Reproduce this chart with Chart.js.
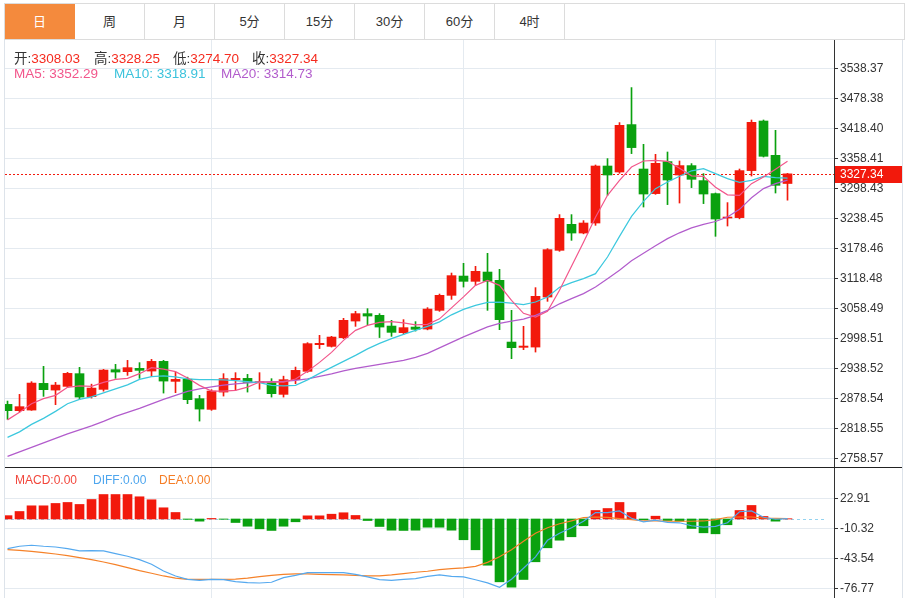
<!DOCTYPE html>
<html>
<head>
<meta charset="utf-8">
<script src="https://cdn.jsdelivr.net/npm/chart.js@4.4.1/dist/chart.umd.min.js"></script>
<style>
  body { margin: 0; background: #fff; }
  #wrap { position: relative; width: 910px; height: 598px; overflow: hidden;
          font-family: "Liberation Sans", "Noto Sans CJK SC", sans-serif; color: #333; }
  #tabs { position: absolute; left: 4px; top: 3px; width: 901px; height: 37px;
          border: 1px solid #dcdcdc; box-sizing: border-box; display: flex; }
  #tabs div { width: 70px; height: 35px; line-height: 35px; text-align: center; font-size: 13px;
              border-right: 1px solid #dcdcdc; box-sizing: border-box; }
  #tabs div.on { background: #f48a3d; color: #fff; border-right-color: #f48a3d; }
  canvas { position: absolute; left: 0; top: 0; }
  .line { position: absolute; }
  .info { position: absolute; font-size: 13.5px; white-space: nowrap; z-index: 2; }
  .small { font-size: 12px; }
</style>
</head>
<body>
<div id="wrap">
  <div id="tabs"></div>
  <canvas id="mainChart" width="910" height="598"></canvas>
  <canvas id="macdChart" width="910" height="598"></canvas>
  <div class="line" style="left:4px;top:40px;width:1px;height:558px;background:#dde3ea"></div>
  <div class="line" style="left:902px;top:40px;width:1px;height:558px;background:#dde3ea"></div>
  <div class="line" style="left:5px;top:467px;width:897px;height:1px;background:#222"></div>
  <div id="infoRow"></div>
</div>
<script>
// tab labels
const tabNames = ['日', '周', '月', '5分', '15分', '30分', '60分', '4时'];

// daily candles
const opens = [2866.4, 2853.8, 2855.0, 2908.4, 2895.0, 2902.4, 2927.8, 2881.8, 2896.4, 2935.8,
  2931.8, 2938.4, 2933.0, 2952.4, 2912.4, 2916.8, 2877.8, 2856.4, 2891.0, 2915.8,
  2918.4, 2909.8, 2909.8, 2886.4, 2915.8, 2932.4, 2985.8, 2982.4, 2999.8, 3033.0,
  3047.8, 3044.4, 3023.0, 3009.8, 3021.0, 3017.0, 3054.4, 3084.4, 3123.0, 3112.4,
  3131.0, 3114.4, 2991.0, 2980.4, 2981.0, 3081.0, 3174.4, 3226.4, 3209.0, 3229.0,
  3343.0, 3331.0, 3425.8, 3337.0, 3287.8, 3351.8, 3325.0, 3343.8, 3313.8, 3287.8,
  3239.0, 3239.8, 3333.8, 3433.0, 3364.4, 3308.03];
const highs = [2873.0, 2886.4, 2911.8, 2942.4, 2910.4, 2930.4, 2940.4, 2906.8, 2936.4, 2946.4,
  2954.4, 2949.8, 2956.4, 2954.4, 2931.0, 2920.8, 2884.4, 2895.8, 2927.8, 2929.8,
  2926.4, 2929.8, 2917.8, 2922.8, 2941.0, 2989.8, 3004.4, 3002.4, 3038.4, 3052.4,
  3057.8, 3047.8, 3034.4, 3035.8, 3031.8, 3059.8, 3087.0, 3129.0, 3148.4, 3142.4,
  3168.4, 3136.4, 3054.4, 3022.4, 3099.8, 3177.8, 3245.8, 3245.8, 3233.8, 3345.0,
  3357.8, 3429.8, 3499.8, 3386.4, 3366.4, 3371.0, 3353.0, 3347.8, 3327.8, 3289.0,
  3269.8, 3337.0, 3435.0, 3435.0, 3414.4, 3328.25];
const lows = [2836.4, 2851.0, 2854.4, 2882.4, 2865.8, 2900.4, 2876.4, 2879.0, 2892.8, 2918.4,
  2924.4, 2918.4, 2922.4, 2889.0, 2889.8, 2867.8, 2833.0, 2854.4, 2883.0, 2894.4,
  2891.0, 2896.8, 2881.0, 2881.0, 2907.8, 2930.4, 2978.0, 2981.0, 2997.8, 3022.4,
  3025.8, 3000.0, 3002.4, 3006.4, 3013.0, 3015.4, 3052.4, 3076.4, 3101.0, 3104.4,
  3054.4, 3015.8, 2957.8, 2975.8, 2971.0, 3072.4, 3172.4, 3194.4, 3207.4, 3224.4,
  3284.4, 3328.4, 3367.8, 3261.0, 3286.4, 3265.8, 3269.0, 3299.8, 3267.8, 3202.4,
  3223.0, 3237.4, 3323.0, 3361.0, 3289.0, 3274.70];
const closes = [2853.8, 2861.8, 2909.0, 2895.8, 2905.0, 2928.4, 2881.0, 2899.0, 2935.0, 2931.0,
  2939.8, 2934.4, 2952.4, 2913.0, 2916.4, 2875.8, 2857.0, 2893.0, 2917.8, 2918.4,
  2910.4, 2911.0, 2887.8, 2915.8, 2934.4, 2987.8, 2988.4, 3001.0, 3034.4, 3047.8,
  3043.0, 3021.0, 3010.4, 3019.8, 3016.4, 3057.0, 3084.4, 3123.8, 3112.4, 3132.4,
  3112.4, 3035.8, 2979.8, 2983.0, 3082.4, 3175.8, 3238.4, 3209.0, 3229.0, 3343.0,
  3325.0, 3424.4, 3379.8, 3287.0, 3348.4, 3315.0, 3343.8, 3316.4, 3287.0, 3237.0,
  3241.0, 3333.8, 3430.4, 3362.4, 3304.4, 3327.34];

// moving averages as drawn
const ma5 = [2835.4, 2850.4, 2867.8, 2877.8, 2884.4, 2900.4, 2903.4, 2902.4, 2910.4, 2916.4,
  2918.4, 2927.8, 2939.8, 2937.0, 2931.8, 2919.0, 2904.4, 2893.0, 2893.0, 2894.4,
  2901.0, 2911.0, 2911.0, 2911.0, 2917.0, 2932.4, 2950.4, 2970.4, 2994.4, 3014.4,
  3024.4, 3030.4, 3032.0, 3029.4, 3025.4, 3026.4, 3037.4, 3059.4, 3081.4, 3104.4,
  3114.4, 3104.4, 3074.4, 3048.4, 3041.0, 3052.4, 3094.4, 3142.4, 3190.4, 3240.4,
  3284.4, 3314.4, 3341.0, 3353.0, 3354.4, 3352.4, 3338.4, 3323.4, 3322.4, 3300.4,
  3285.4, 3284.4, 3307.8, 3321.0, 3336.4, 3352.29];
const ma10 = [2800.4, 2811.4, 2826.4, 2838.4, 2852.4, 2867.8, 2876.4, 2881.4, 2889.4, 2897.4,
  2905.4, 2916.4, 2922.0, 2923.4, 2921.4, 2917.4, 2916.0, 2915.8, 2915.4, 2913.8,
  2912.0, 2909.8, 2904.4, 2903.4, 2904.4, 2915.4, 2928.4, 2940.4, 2952.4, 2964.4,
  2977.4, 2988.4, 2997.8, 3006.4, 3014.4, 3022.4, 3031.4, 3045.4, 3056.4, 3064.4,
  3070.4, 3071.0, 3069.0, 3065.8, 3071.0, 3081.0, 3100.4, 3109.8, 3117.8, 3127.8,
  3161.0, 3202.4, 3242.4, 3272.4, 3297.8, 3311.0, 3322.4, 3333.4, 3337.8, 3327.8,
  3317.8, 3310.4, 3314.4, 3322.4, 3319.8, 3318.91];
const ma20 = [2762.4, 2771.4, 2780.4, 2789.4, 2798.4, 2807.4, 2815.4, 2823.4, 2832.4, 2842.4,
  2850.4, 2858.4, 2867.4, 2876.4, 2884.4, 2892.4, 2897.4, 2901.4, 2904.8, 2907.4,
  2909.4, 2910.8, 2911.8, 2912.4, 2914.4, 2917.4, 2922.4, 2927.4, 2933.4, 2938.4,
  2942.4, 2946.4, 2950.4, 2954.4, 2960.4, 2968.4, 2979.4, 2990.4, 3001.4, 3011.4,
  3021.4, 3028.4, 3033.0, 3037.0, 3044.4, 3054.4, 3067.4, 3077.8, 3087.8, 3101.0,
  3117.8, 3134.4, 3153.4, 3168.4, 3183.4, 3197.8, 3209.4, 3219.4, 3226.4, 3232.0,
  3241.0, 3256.4, 3279.4, 3297.8, 3307.8, 3314.73];

// MACD panel
const macdBars = [3.7, 8.3, 14.6, 14.6, 17.2, 18.3, 16.1, 21.6, 27.1, 27.1,
  27.1, 24.6, 21.3, 12.4, 7.2, -0.4, -2.4, 0.6, -0.3, -3.9,
  -8.0, -10.9, -12.7, -8.0, -3.1, 3.5, 3.5, 5.3, 6.9, 3.9,
  -1.7, -8.3, -12.4, -12.7, -12.4, -9.1, -9.1, -12.4, -23.0, -34.1,
  -51.2, -69.6, -75.5, -67.0, -47.4, -31.9, -23.5, -19.7, -7.5, 9.4,
  11.6, 18.3, 7.2, -0.9, 3.1, -1.7, -2.4, -10.5, -15.3, -16.4,
  -6.4, 9.4, 15.0, 2.8, -2.4, 0.3];
const diffLine = [-32.8, -30.2, -29.1, -30.2, -31.0, -32.8, -35.4, -35.0, -35.4, -38.3,
  -41.3, -45.0, -50.2, -57.6, -63.1, -66.8, -67.9, -66.8, -67.1, -69.3,
  -70.4, -70.9, -70.1, -64.9, -62.4, -59.4, -59.4, -59.4, -59.4, -61.3,
  -64.2, -67.1, -67.9, -66.8, -66.0, -63.5, -62.0, -63.5, -64.2, -67.3,
  -70.7, -75.7, -66.8, -54.6, -41.9, -23.6, -15.8, -9.7, -2.5, 7.1,
  7.1, 8.9, 0.8, -3.1, -1.4, -3.7, -4.2, -7.5, -8.9, -8.1,
  -4.2, 8.0, 8.9, 1.9, -0.3, 0.4];
const deaLine = [-33.9, -34.7, -35.8, -37.2, -38.8, -40.5, -42.8, -45.0, -47.6, -50.5,
  -53.8, -57.2, -60.1, -63.1, -65.4, -66.8, -66.8, -66.8, -66.8, -66.5,
  -65.4, -63.8, -62.4, -61.3, -60.9, -60.9, -61.3, -61.6, -62.0, -62.4,
  -63.1, -63.1, -62.0, -60.5, -59.0, -57.9, -56.0, -54.9, -54.1, -52.4,
  -48.0, -41.9, -34.1, -24.7, -15.8, -9.7, -5.3, -2.0, 1.6, 2.2,
  1.7, 0.4, -0.7, -2.2, -2.2, -2.5, -2.5, -2.5, -2.2, -0.7,
  1.9, 2.2, 2.2, 1.1, 0.8, 0.4];

// axis ticks
const priceTicks = [3538.37, 3478.38, 3418.40, 3358.41, 3298.43, 3238.45, 3178.46,
  3118.48, 3058.49, 2998.51, 2938.52, 2878.54, 2818.55, 2758.57];
const macdTicks = [22.91, -10.32, -43.54, -76.77];
const monthStarts = [17, 38, 59];

const RED = '#f2190c', GREEN = '#0aa10f', GRID = '#e4eaf0';
const FONT = '"Liberation Sans", "Noto Sans CJK SC", sans-serif';
const last = closes.length - 1;
const idx = closes.map((_, i) => i);

// tabs
const tabs = document.getElementById('tabs');
tabNames.forEach((t, i) => {
  const d = document.createElement('div');
  d.textContent = t;
  if (i === 0) d.className = 'on';
  tabs.appendChild(d);
});

// info text
const info = document.getElementById('infoRow');
function addText(x, y, parts, cls) {
  const d = document.createElement('div');
  d.className = 'info' + (cls ? ' ' + cls : '');
  d.style.left = x + 'px';
  d.style.top = y + 'px';
  d.innerHTML = parts.map(p => '<span style="color:' + p[1] + '">' + p[0] + '</span>').join('');
  info.appendChild(d);
}
addText(14, 47, [['开:', '#333'], [opens[last].toFixed(2), '#f52b1f']]);
addText(94, 47, [['高:', '#333'], [highs[last].toFixed(2), '#f52b1f']]);
addText(173, 47, [['低:', '#333'], [lows[last].toFixed(2), '#f52b1f']]);
addText(252, 47, [['收:', '#333'], [closes[last].toFixed(2), '#f52b1f']]);
addText(14, 66, [['MA5: ' + ma5[last].toFixed(2), '#f2568b']]);
addText(114, 66, [['MA10: ' + ma10[last].toFixed(2), '#3cc3dc']]);
addText(221, 66, [['MA20: ' + ma20[last].toFixed(2), '#b25ccc']]);
addText(15, 473, [['MACD:0.00', '#f2473c']], 'small');
addText(93, 473, [['DIFF:0.00', '#4ea6ee']], 'small');
addText(159, 473, [['DEA:0.00', '#f57d26']], 'small');

const candleColor = c => closes[c.dataIndex] >= opens[c.dataIndex] ? RED : GREEN;

function xAxis() {
  return {
    type: 'linear', min: -0.21, max: 68.875, offset: false,
    afterBuildTicks: s => { s.ticks = monthStarts.map(v => ({ value: v })); },
    afterFit: s => { s.height = 0; },
    ticks: { display: false },
    grid: { color: GRID, drawTicks: false, offset: false },
    border: { display: false }
  };
}
function yAxis(min, max, list) {
  return {
    type: 'linear', position: 'right', min: min, max: max,
    afterBuildTicks: s => { s.ticks = list.map(v => ({ value: v })); },
    afterFit: s => { s.width = 76; s.paddingTop = 0; s.paddingBottom = 0; },
    ticks: { color: '#333', padding: 2, font: { size: 12, family: FONT }, autoSkip: false,
             callback: v => v.toFixed(2) },
    grid: { color: GRID, tickColor: '#333', tickLength: 4 },
    border: { display: true, color: '#333' }
  };
}

const priceLine = {
  id: 'priceLine',
  beforeDatasetsDraw(chart) {
    const { ctx, chartArea, scales } = chart;
    const y = Math.round(scales.y.getPixelForValue(closes[last])) + 0.5;
    ctx.save();
    ctx.strokeStyle = RED;
    ctx.lineWidth = 1;
    ctx.setLineDash([2, 2]);
    ctx.beginPath();
    ctx.moveTo(chartArea.left, y);
    ctx.lineTo(chartArea.right, y);
    ctx.stroke();
    ctx.restore();
  },
  afterDraw(chart) {
    const { ctx, chartArea, scales } = chart;
    const y = Math.round(scales.y.getPixelForValue(closes[last]));
    ctx.save();
    ctx.fillStyle = RED;
    ctx.fillRect(chartArea.right + 1, y - 8, 68, 17);
    ctx.fillStyle = '#fff';
    ctx.font = '12px ' + FONT;
    ctx.textBaseline = 'middle';
    ctx.fillText(closes[last].toFixed(2), chartArea.right + 6, y + 1);
    ctx.restore();
  }
};

const zeroLine = {
  id: 'zeroLine',
  beforeDatasetsDraw(chart) {
    const { ctx, chartArea, scales } = chart;
    const y = Math.round(scales.y.getPixelForValue(0)) + 0.5;
    ctx.save();
    ctx.strokeStyle = '#94d3f0';
    ctx.lineWidth = 1;
    ctx.setLineDash([3, 3]);
    ctx.beginPath();
    ctx.moveTo(chartArea.left, y);
    ctx.lineTo(chartArea.right - 8, y);
    ctx.stroke();
    ctx.restore();
  }
};

const common = {
  responsive: false,
  animation: false,
  events: [],
  plugins: { legend: { display: false }, tooltip: { enabled: false } }
};

function lineSet(values, color) {
  return { type: 'line', data: idx.map(i => ({ x: i, y: values[i] })), borderColor: color,
           borderWidth: 1.2, pointRadius: 0, tension: 0, order: 0 };
}

new Chart(document.getElementById('mainChart'), {
  type: 'bar',
  data: {
    datasets: [
      lineSet(ma5, '#f2568b'),
      lineSet(ma10, '#3cc8de'),
      lineSet(ma20, '#b25ccc'),
      { data: idx.map(i => ({ x: i, y: [opens[i], closes[i]] })), backgroundColor: candleColor,
        barThickness: 9, maxBarThickness: 9, grouped: false, minBarLength: 1, order: 1 },
      { data: idx.map(i => ({ x: i, y: [lows[i], highs[i]] })), backgroundColor: candleColor,
        barThickness: 1, maxBarThickness: 1, grouped: false, order: 2 }
    ]
  },
  options: Object.assign({}, common, {
    layout: { padding: { top: 40, bottom: 131, left: 5, right: 0 } },
    scales: { x: xAxis(), y: yAxis(2741.17, 3594.96, priceTicks) }
  }),
  plugins: [priceLine]
});

new Chart(document.getElementById('macdChart'), {
  type: 'bar',
  data: {
    datasets: [
      lineSet(diffLine, '#55a9ef'),
      lineSet(deaLine, '#f5822a'),
      { data: idx.map(i => ({ x: i, y: macdBars[i] })),
        backgroundColor: c => macdBars[c.dataIndex] >= 0 ? RED : GREEN,
        barThickness: 9, maxBarThickness: 9, grouped: false, order: 1 }
    ]
  },
  options: Object.assign({}, common, {
    layout: { padding: { top: 467, bottom: 0, left: 5, right: 0 } },
    scales: { x: xAxis(), y: yAxis(-87.51, 57.58, macdTicks) }
  }),
  plugins: [zeroLine]
});
</script>
</body>
</html>
